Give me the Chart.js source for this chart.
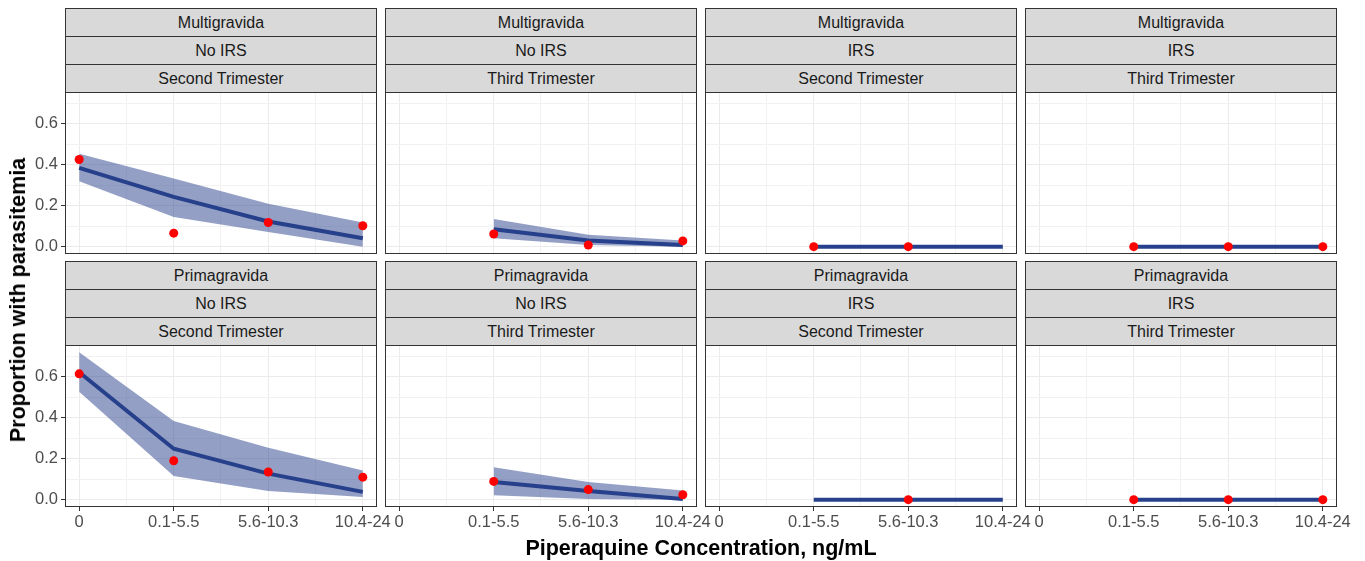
<!DOCTYPE html>
<html>
<head>
<meta charset="utf-8">
<script src="https://cdn.jsdelivr.net/npm/chart.js@4.4.1/dist/chart.umd.min.js"></script>
<style>
  html, body { margin: 0; padding: 0; background: #fff; }
  #fig { position: relative; width: 1365px; height: 561px; overflow: hidden;
         font-family: "Liberation Sans", Arial, sans-serif; }
  .panel { position: absolute; }
  .strip { position: absolute; box-sizing: border-box; height: 29px; background: #D9D9D9;
           border: 1px solid #333333; color: #1A1A1A; font-size: 16px; line-height: 27px;
           text-align: center; white-space: nowrap; }
  .axis-title { position: absolute; font-weight: bold; font-size: 21.5px; line-height: 24px;
                color: #000; white-space: nowrap; }
</style>
</head>
<body>
<div id="fig"></div>
<script>
(function () {
  'use strict';

  /*--------- 1. DATA --------*/

  const CONC_LABELS = ['0', '0.1-5.5', '5.6-10.3', '10.4-24'];
  const Y_BREAKS = [0, 0.2, 0.4, 0.6];

  const GRAVIDITY = ['Multigravida', 'Primagravida'];
  const IRS = ['No IRS', 'No IRS', 'IRS', 'IRS'];
  const TRIMESTER = ['Second Trimester', 'Third Trimester', 'Second Trimester', 'Third Trimester'];

  // Multigravida, No IRS, Second Trimester
  const mNo2Obs = [0.426, 0.066, 0.118, 0.102];
  const mNo2Fit = [0.385, 0.243, 0.123, 0.041];
  const mNo2Lo  = [0.320, 0.145, 0.071, 0.000];
  const mNo2Hi  = [0.454, 0.333, 0.210, 0.118];

  // Multigravida, No IRS, Third Trimester
  const mNo3Obs = [null, 0.062, 0.008, 0.028];
  const mNo3Fit = [null, 0.085, 0.030, 0.008];
  const mNo3Lo  = [null, 0.041, 0.008, 0.000];
  const mNo3Hi  = [null, 0.135, 0.058, 0.030];

  // Multigravida, IRS
  const mIrs2Obs = [null, 0, 0, null];
  const mIrs2Fit = [null, 0, 0, 0];
  const mIrs3Obs = [null, 0, 0, 0];
  const mIrs3Fit = [null, 0, 0, 0];

  // Primagravida, No IRS, Second Trimester
  const pNo2Obs = [0.615, 0.190, 0.135, 0.110];
  const pNo2Fit = [0.623, 0.249, 0.127, 0.038];
  const pNo2Lo  = [0.528, 0.116, 0.042, 0.013];
  const pNo2Hi  = [0.720, 0.384, 0.254, 0.143];

  // Primagravida, No IRS, Third Trimester
  const pNo3Obs = [null, 0.089, 0.049, 0.024];
  const pNo3Fit = [null, 0.086, 0.042, 0.003];
  const pNo3Lo  = [null, 0.021, 0.003, 0.000];
  const pNo3Hi  = [null, 0.158, 0.086, 0.045];

  // Primagravida, IRS
  const pIrs2Obs = [null, null, 0, null];
  const pIrs2Fit = [null, 0, 0, 0];
  const pIrs3Obs = [null, 0, 0, 0];
  const pIrs3Fit = [null, 0, 0, 0];

  const PANELS = [
    { row: 0, col: 0, obs: mNo2Obs,  fit: mNo2Fit,  lo: mNo2Lo,   hi: mNo2Hi },
    { row: 0, col: 1, obs: mNo3Obs,  fit: mNo3Fit,  lo: mNo3Lo,   hi: mNo3Hi },
    { row: 0, col: 2, obs: mIrs2Obs, fit: mIrs2Fit, lo: mIrs2Fit, hi: mIrs2Fit },
    { row: 0, col: 3, obs: mIrs3Obs, fit: mIrs3Fit, lo: mIrs3Fit, hi: mIrs3Fit },
    { row: 1, col: 0, obs: pNo2Obs,  fit: pNo2Fit,  lo: pNo2Lo,   hi: pNo2Hi },
    { row: 1, col: 1, obs: pNo3Obs,  fit: pNo3Fit,  lo: pNo3Lo,   hi: pNo3Hi },
    { row: 1, col: 2, obs: pIrs2Obs, fit: pIrs2Fit, lo: pIrs2Fit, hi: pIrs2Fit },
    { row: 1, col: 3, obs: pIrs3Obs, fit: pIrs3Fit, lo: pIrs3Fit, hi: pIrs3Fit }
  ];


  /*--------- 2. LAYOUT / STYLE --------*/

  const FONT = '"Liberation Sans", Arial, sans-serif';
  const PANEL_LEFT = [65, 385, 705, 1025];
  const PANEL_TOP = [92, 345];
  const PANEL_W = 312, PANEL_H = 162, STRIP_H = 28;
  const AXIS_W = 45, AXIS_H = 34, PAD_TOP = 8, PAD_RIGHT = 20;

  const LINE_COLOR = '#27408B';
  const RIBBON_COLOR = 'rgba(39, 64, 139, 0.5)';
  const GRID_MAJOR = '#EBEBEB';
  const GRID_MINOR = '#F2F2F2';

  // shared y range (ggplot style 5% expansion)
  const allY = [];
  PANELS.forEach(function (p) {
    [p.obs, p.fit, p.lo, p.hi].forEach(function (a) {
      a.forEach(function (v) { if (v !== null) allY.push(v); });
    });
  });
  const yLo = Math.min.apply(null, allY), yHi = Math.max.apply(null, allY);
  const Y_MIN = yLo - 0.05 * (yHi - yLo);
  const Y_MAX = yHi + 0.05 * (yHi - yLo);
  const X_MIN = 1 - 0.05 * (CONC_LABELS.length - 1);
  const X_MAX = CONC_LABELS.length + 0.05 * (CONC_LABELS.length - 1);

  // major breaks plus minor midpoints
  const X_GRID = [];
  CONC_LABELS.forEach(function (l, i) {
    X_GRID.push(i + 1);
    if (i < CONC_LABELS.length - 1) X_GRID.push(i + 1.5);
  });
  const Y_GRID = [];
  const yStep = Y_BREAKS[1] - Y_BREAKS[0];
  Y_BREAKS.forEach(function (b) {
    Y_GRID.push(b);
    if (b + yStep / 2 < Y_MAX) Y_GRID.push(b + yStep / 2);
  });

  function isMajorX(v) { return Math.abs(v - Math.round(v)) < 1e-6; }
  function isMajorY(v) {
    return Y_BREAKS.some(function (b) { return Math.abs(b - v) < 1e-6; });
  }

  function toXY(arr) {
    const out = [];
    arr.forEach(function (v, i) { if (v !== null) out.push({ x: i + 1, y: v }); });
    return out;
  }

  // panel.border of theme_bw
  const panelBorder = {
    id: 'panelBorder',
    afterDraw: function (chart) {
      const a = chart.chartArea, ctx = chart.ctx;
      ctx.save();
      ctx.strokeStyle = '#333333';
      ctx.lineWidth = 1;
      ctx.strokeRect(a.left + 0.5, a.top + 0.5, a.right - a.left - 1, a.bottom - a.top - 1);
      ctx.restore();
    }
  };

  const fig = document.getElementById('fig');


  /*--------- 3. PANELS --------*/

  PANELS.forEach(function (p) {
    const left = PANEL_LEFT[p.col], top = PANEL_TOP[p.row];
    const showY = p.col === 0;
    const showX = p.row === 1;

    // strips
    [GRAVIDITY[p.row], IRS[p.col], TRIMESTER[p.col]].forEach(function (txt, k) {
      const s = document.createElement('div');
      s.className = 'strip';
      s.style.left = left + 'px';
      s.style.width = PANEL_W + 'px';
      s.style.top = (top - 3 * STRIP_H + k * STRIP_H) + 'px';
      s.textContent = txt;
      fig.appendChild(s);
    });

    const wrap = document.createElement('div');
    wrap.className = 'panel';
    wrap.style.left = (left - AXIS_W) + 'px';
    wrap.style.top = (top - PAD_TOP) + 'px';
    const canvas = document.createElement('canvas');
    canvas.width = AXIS_W + PANEL_W + PAD_RIGHT;
    canvas.height = PAD_TOP + PANEL_H + AXIS_H;
    wrap.appendChild(canvas);
    fig.appendChild(wrap);

    new Chart(canvas, {
      type: 'line',
      data: {
        datasets: [
          {
            label: 'Observed',
            data: toXY(p.obs),
            showLine: false,
            pointRadius: 4.5,
            pointBackgroundColor: '#FF0000',
            pointBorderWidth: 0,
            pointBorderColor: '#FF0000'
          },
          {
            label: 'Fit',
            data: toXY(p.fit),
            borderColor: LINE_COLOR,
            borderWidth: 4,
            pointRadius: 0,
            tension: 0,
            fill: false
          },
          {
            label: 'Upper',
            data: toXY(p.hi),
            borderColor: 'transparent',
            borderWidth: 1,
            backgroundColor: RIBBON_COLOR,
            pointRadius: 0,
            tension: 0,
            fill: '+1'
          },
          {
            label: 'Lower',
            data: toXY(p.lo),
            borderColor: 'transparent',
            borderWidth: 1,
            pointRadius: 0,
            tension: 0,
            fill: false
          }
        ]
      },
      options: {
        responsive: false,
        animation: false,
        events: [],
        layout: { padding: { top: PAD_TOP, right: PAD_RIGHT, left: 0, bottom: 0 } },
        plugins: {
          legend: { display: false },
          tooltip: { enabled: false }
        },
        scales: {
          x: {
            type: 'linear',
            min: X_MIN,
            max: X_MAX,
            border: { display: false },
            afterBuildTicks: function (scale) {
              scale.ticks = X_GRID.map(function (v) { return { value: v }; });
            },
            afterFit: function (scale) {
              scale.height = AXIS_H;
              scale.paddingLeft = 0; scale.paddingRight = 0;
              scale.paddingTop = 0; scale.paddingBottom = 0;
            },
            grid: {
              drawTicks: showX,
              tickLength: 4,
              lineWidth: 1,
              color: function (ctx) {
                return ctx.tick && isMajorX(ctx.tick.value) ? GRID_MAJOR : GRID_MINOR;
              },
              tickColor: function (ctx) {
                return ctx.tick && isMajorX(ctx.tick.value) ? '#333333' : 'rgba(0,0,0,0)';
              }
            },
            ticks: {
              display: showX,
              autoSkip: false,
              maxRotation: 0,
              padding: 2,
              color: '#4D4D4D',
              font: { family: FONT, size: 16.5 },
              callback: function (v) {
                return isMajorX(v) ? CONC_LABELS[Math.round(v) - 1] : '';
              }
            }
          },
          y: {
            type: 'linear',
            min: Y_MIN,
            max: Y_MAX,
            border: { display: false },
            afterBuildTicks: function (scale) {
              scale.ticks = Y_GRID.map(function (v) { return { value: v }; });
            },
            afterFit: function (scale) {
              scale.width = AXIS_W;
              scale.paddingLeft = 0; scale.paddingRight = 0;
              scale.paddingTop = 0; scale.paddingBottom = 0;
            },
            grid: {
              drawTicks: showY,
              tickLength: 4,
              lineWidth: 1,
              color: function (ctx) {
                return ctx.tick && isMajorY(ctx.tick.value) ? GRID_MAJOR : GRID_MINOR;
              },
              tickColor: function (ctx) {
                return ctx.tick && isMajorY(ctx.tick.value) ? '#333333' : 'rgba(0,0,0,0)';
              }
            },
            ticks: {
              display: showY,
              autoSkip: false,
              padding: 3,
              color: '#4D4D4D',
              font: { family: FONT, size: 16.5 },
              callback: function (v) {
                return isMajorY(v) ? v.toFixed(1) : '';
              }
            }
          }
        }
      },
      plugins: [panelBorder]
    });
  });


  /*--------- 4. AXIS TITLES --------*/

  const xTitle = document.createElement('div');
  xTitle.className = 'axis-title';
  xTitle.style.left = PANEL_LEFT[0] + 'px';
  xTitle.style.width = (PANEL_LEFT[3] + PANEL_W - PANEL_LEFT[0]) + 'px';
  xTitle.style.textAlign = 'center';
  xTitle.style.top = '536px';
  xTitle.textContent = 'Piperaquine Concentration, ng/mL';
  fig.appendChild(xTitle);

  const yTitle = document.createElement('div');
  yTitle.className = 'axis-title';
  yTitle.style.left = '18px';
  yTitle.style.top = '300px';
  yTitle.style.transform = 'translate(-50%, -50%) rotate(-90deg)';
  yTitle.textContent = 'Proportion with parasitemia';
  fig.appendChild(yTitle);

})();
</script>
</body>
</html>
